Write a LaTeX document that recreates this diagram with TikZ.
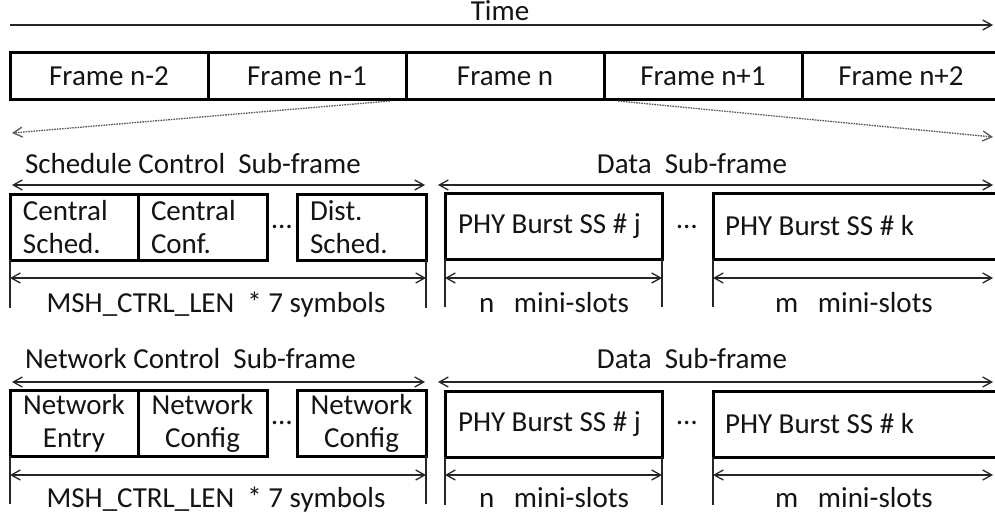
\documentclass[tikz,border=0pt]{standalone}
\usepackage{fontspec}
\setmainfont{Carlito}
\usetikzlibrary{arrows.meta}

\tikzset{
  txt/.style={font=\fontsize{29}{33}\selectfont, text=black!92, inner sep=0pt, outer sep=0pt},
  thin line/.style={line width=1.3pt, black!85},
  tip/.style={-{Straight Barb[length=9pt,width=10pt,line width=1.3pt]}},
  both tips/.style={{Straight Barb[length=9pt,width=10pt,line width=1.3pt]}-{Straight Barb[length=9pt,width=10pt,line width=1.3pt]}},
  framebox/.style={txt, draw=black, line width=3pt, minimum width=198pt, minimum height=46pt},
  slotbox/.style={txt, draw=black, line width=3pt, minimum height=66pt, inner ysep=0pt},
  leftslot/.style={slotbox, align=left, inner xsep=13pt, text width=#1},
  midslot/.style={slotbox, align=center, inner xsep=0pt, minimum width=#1},
  burstslot/.style={slotbox, inner xsep=0pt, minimum width=#1},
  zoomline/.style={line width=1.3pt, black!65, dash pattern=on 1.6pt off 1pt},
}

\begin{document}
\begin{tikzpicture}[x=1pt, y=-1pt]
\useasboundingbox (0,0) rectangle (995,519);
\fill[white] (0,0) rectangle (995,519);
\clip (0,0) rectangle (995,519);

% ---------- time axis ----------
\node[txt, anchor=base] (time) at (500,20.5) {Time};
\coordinate (tA) at (10,25);
\coordinate (tB) at (993,25);
\draw[thin line, tip] (tA) -- (tB);

% ---------- frame sequence ----------
\node[framebox] (f1) at (109,76) {Frame n-2};
\node[framebox] (f2) at (307,76) {Frame n-1};
\node[framebox] (f3) at (505,76) {Frame n};
\node[framebox] (f4) at (703,76) {Frame n+1};
\node[framebox] (f5) at (901,76) {Frame n+2};

% expansion of frame n
\coordinate (zA) at (390,101);
\coordinate (zB) at (12,133);
\coordinate (zC) at (618,101);
\coordinate (zD) at (993,137);
\draw[zoomline, tip] (zA) -- (zB);
\draw[zoomline, tip] (zC) -- (zD);

% ---------- schedule control frame ----------
\node[txt, anchor=base west] (schedlbl) at (25,173) {Schedule Control\ \ Sub-frame};
\node[txt, anchor=base] (datalbl1) at (692,173) {Data\ \ Sub-frame};
\coordinate (sA) at (12,185);
\coordinate (sB) at (425,185);
\coordinate (sC) at (438,185);
\coordinate (sD) at (993,185);
\draw[thin line, both tips] (sA) -- (sB);
\draw[thin line, both tips] (sC) -- (sD);

\node[leftslot=102pt] (cs1) at (74,227) {Central\\Sched.};
\node[leftslot=103pt] (cs2) at (202.5,227) {Central\\Conf.};
\node[txt, anchor=base] (dots1) at (282,228) {…};
\node[leftslot=103pt] (cs3) at (361.5,227) {Dist.\\Sched.};
\node[burstslot=217pt] (pj1) at (553.5,226) {\makebox[191pt][l]{PHY Burst SS \# j}};
\node[txt, anchor=base] (dots2) at (687,228) {…};
\node[burstslot=287pt] (pk1) at (856.5,226) {\makebox[263pt][l]{PHY Burst SS \# k}};

\foreach \a in {cs1.south west, cs3.south east, pj1.south west, pj1.south east, pk1.south west}
  \draw[thin line] (\a) -- ++(0,48);
\coordinate (m1) at (993,278);
\draw[thin line, both tips] ([yshift=-19pt]pj1.south west -| cs1.west) -- ([yshift=-19pt]pj1.south west -| cs3.east);
\draw[thin line, both tips] ([yshift=-19pt]pj1.south west) -- ([yshift=-19pt]pj1.south east);
\draw[thin line, both tips] ([yshift=-19pt]pk1.south west) -- (m1);

\node[txt, anchor=base] (len1) at (216,312) {MSH\_CTRL\_LEN\ \ * 7 symbols};
\node[txt, anchor=base] (n1) at (554,312) {n\ \ \ mini-slots};
\node[txt, anchor=base] (mm1) at (854,312) {m\ \ \ mini-slots};

% ---------- network control frame ----------
\node[txt, anchor=base west] (netlbl) at (25,368) {Network Control\ \ Sub-frame};
\node[txt, anchor=base] (datalbl2) at (692,368) {Data\ \ Sub-frame};
\coordinate (nA) at (12,382);
\coordinate (nB) at (425,382);
\coordinate (nC) at (438,382);
\coordinate (nD) at (993,382);
\draw[thin line, both tips] (nA) -- (nB);
\draw[thin line, both tips] (nC) -- (nD);

\node[midslot=128pt] (nc1) at (74,423) {Network\\Entry};
\node[midslot=129pt] (nc2) at (202.5,423) {Network\\Config};
\node[txt, anchor=base] (dots3) at (282,424) {…};
\node[midslot=129pt] (nc3) at (361.5,423) {Network\\Config};
\node[burstslot=217pt] (pj2) at (553.5,424) {\makebox[191pt][l]{PHY Burst SS \# j}};
\node[txt, anchor=base] (dots4) at (687,424) {…};
\node[burstslot=287pt] (pk2) at (856.5,424) {\makebox[263pt][l]{PHY Burst SS \# k}};

\foreach \a in {nc1.south west, nc3.south east, pj2.south west, pj2.south east, pk2.south west}
  \draw[thin line] (\a) -- ++(0,48);
\coordinate (m2) at (993,475);
\draw[thin line, both tips] ([yshift=-18pt]pj2.south west -| nc1.west) -- ([yshift=-18pt]pj2.south west -| nc3.east);
\draw[thin line, both tips] ([yshift=-18pt]pj2.south west) -- ([yshift=-18pt]pj2.south east);
\draw[thin line, both tips] ([yshift=-18pt]pk2.south west) -- (m2);

\node[txt, anchor=base] (len2) at (216,507) {MSH\_CTRL\_LEN\ \ * 7 symbols};
\node[txt, anchor=base] (n2) at (554,507) {n\ \ \ mini-slots};
\node[txt, anchor=base] (mm2) at (854,507) {m\ \ \ mini-slots};
\end{tikzpicture}
\end{document}
